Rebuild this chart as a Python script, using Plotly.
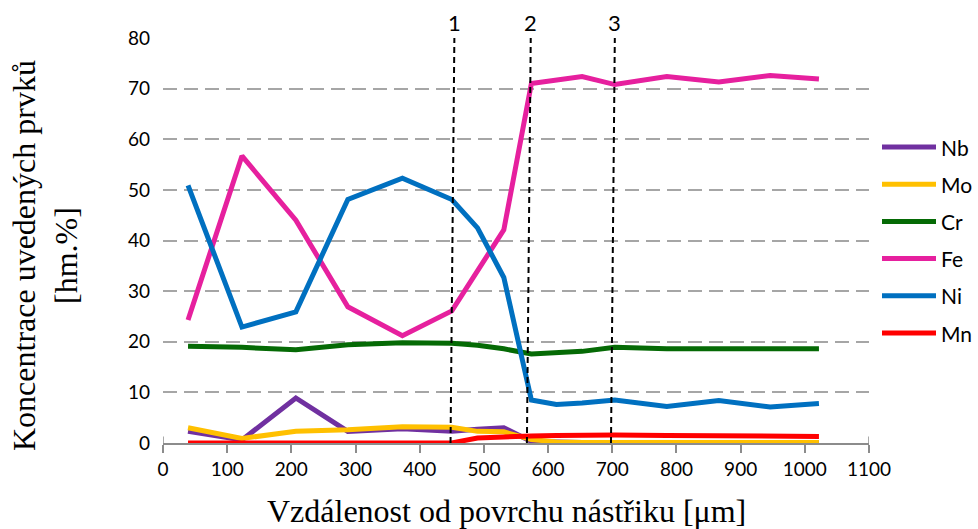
import plotly.graph_objects as go

# Distance from the coating surface [µm]
distance = [39, 123, 207, 288, 373, 450, 490, 531, 574, 613, 653, 704, 785, 866, 946, 1022]

# Element concentrations [wt.%]
nb = [2.3, 0.6, 8.9, 2.3, 2.8, 2.3, 2.7, 3.0, 0.3, 0.1, 0.1, 0.1, 0.1, 0.1, 0.1, 0.1]
mo = [3.0, 0.9, 2.3, 2.6, 3.2, 3.1, 2.3, 2.2, 0.7, 0.2, 0.1, 0.1, 0.1, 0.1, 0.1, 0.1]
cr = [19.1, 18.9, 18.4, 19.4, 19.8, 19.7, 19.3, 18.6, 17.6, 17.9, 18.1, 18.9, 18.6, 18.6, 18.6, 18.6]
fe = [24.3, 56.7, 44.0, 26.9, 21.2, 26.1, 34.0, 42.1, 71.0, 71.7, 72.4, 70.8, 72.4, 71.3, 72.6, 71.9]
ni = [50.9, 22.9, 25.9, 48.1, 52.3, 48.1, 42.5, 32.7, 8.5, 7.6, 7.9, 8.5, 7.2, 8.4, 7.1, 7.8]
mn = [0.0, 0.0, 0.0, 0.0, 0.0, 0.0, 1.0, 1.3, 1.4, 1.5, 1.6, 1.6, 1.5, 1.5, 1.3, 1.3]

series = [
    ("Nb", nb, "#7030A0"),
    ("Mo", mo, "#FFC000"),
    ("Cr", cr, "#056A05"),
    ("Fe", fe, "#E6209E"),
    ("Ni", ni, "#0070C0"),
    ("Mn", mn, "#FF0000"),
]

# Interface markers: label, x at the axis, x at the top of the plot
boundaries = [("1", 448, 454), ("2", 567, 573), ("3", 698, 704)]

x_ticks = list(range(0, 1101, 100))
y_ticks = list(range(0, 81, 10))

W, H = 978, 529
L, R, T, B = 163, 109, 38, 86
PW, PH = W - L - R, H - T - B


def px(x):
    return (x - L) / PW


def py(y):
    return (H - B - y) / PH


sans = "Lato, Open Sans, sans-serif"
tick_font = dict(family=sans, size=19, color="#000000")
title_font = dict(family="Liberation Serif, Times New Roman, serif", size=32, color="#000000")

fig = go.Figure()
for name, values, color in series:
    fig.add_trace(go.Scatter(
        x=distance, y=values, name=name, mode="lines",
        line=dict(color=color, width=5), showlegend=False,
    ))

for label, xb, xt in boundaries:
    fig.add_shape(type="line", xref="x", yref="y", x0=xb, y0=0, x1=xt, y1=80.5,
                  line=dict(color="#000000", width=2, dash="6px,4px"))
    fig.add_annotation(x=xt, y=80, xref="x", yref="y", text=label, showarrow=False,
                       yanchor="bottom", font=dict(family=sans, size=22, color="#000000"),
                       yshift=0)

# End caps on the horizontal axis
for xc in (0, 1100):
    fig.add_shape(type="line", xref="x", yref="y", x0=xc, x1=xc, y0=0, y1=1.3,
                  line=dict(color="#8c8c8c", width=1.5))

# Legend drawn at the right of the plot area
for i, (name, values, color) in enumerate(series):
    yc = py(147 + 37.2 * i)
    fig.add_shape(type="line", xref="paper", yref="paper",
                  x0=px(882), x1=px(936), y0=yc, y1=yc,
                  line=dict(color=color, width=5))
    fig.add_annotation(xref="paper", yref="paper", x=px(939), y=yc, text=name,
                       showarrow=False, xanchor="left", yanchor="middle",
                       font=dict(family=sans, size=21, color="#000000"))

# Axis titles
fig.add_annotation(xref="paper", yref="paper", x=px(506), y=py(511),
                   text="Vzdálenost od povrchu nástřiku [μm]", showarrow=False,
                   xanchor="center", yanchor="middle", font=title_font)
fig.add_annotation(xref="paper", yref="paper", x=px(45), y=py(256),
                   text="Koncentrace uvedených prvků<br>[hm.%]", showarrow=False,
                   textangle=-90, xanchor="center", yanchor="middle", font=title_font)

fig.update_layout(
    width=W, height=H,
    margin=dict(l=L, r=R, t=T, b=B, pad=0),
    paper_bgcolor="#ffffff", plot_bgcolor="#ffffff",
    showlegend=False,
    xaxis=dict(
        range=[0, 1100], tickmode="array", tickvals=x_ticks,
        showgrid=False, zeroline=False,
        showline=True, linecolor="#8c8c8c", linewidth=1.5,
        ticks="outside", ticklen=8, tickwidth=1.5, tickcolor="#8c8c8c",
        tickfont=tick_font,
    ),
    yaxis=dict(
        range=[0, 80], tickmode="array", tickvals=y_ticks,
        showgrid=True, gridcolor="#a6a6a6", gridwidth=2, griddash="14px,7px",
        zeroline=False, showline=False, ticks="", ticklabelstandoff=12,
        tickfont=tick_font,
    ),
)

fig.write_html("out.html")
